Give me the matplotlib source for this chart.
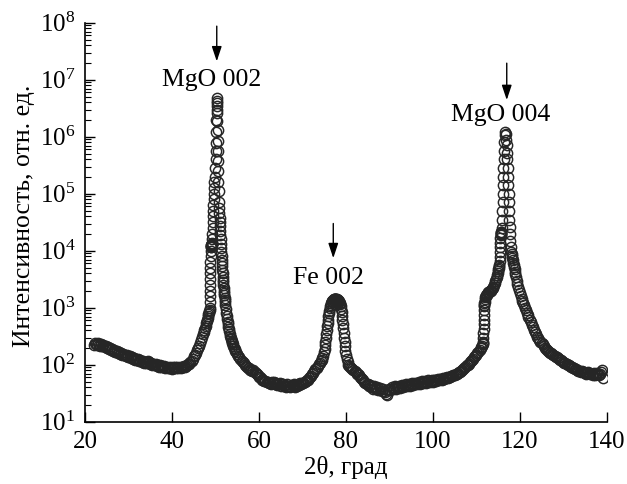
import numpy as np
import matplotlib
matplotlib.use('Agg')
import matplotlib.pyplot as plt
from matplotlib.ticker import FixedLocator, FuncFormatter, NullFormatter

plt.rcParams['font.family'] = ['Liberation Serif', 'DejaVu Serif']
plt.rcParams['mathtext.fontset'] = 'custom'
plt.rcParams['mathtext.rm'] = 'Liberation Serif'
plt.rcParams['mathtext.it'] = 'Liberation Serif:italic'
plt.rcParams['mathtext.bf'] = 'Liberation Serif:bold'

# --- points: (2theta in degrees, intensity in arb. units) ---
# background before MgO 002
bg1 = [(22.0, 225), (22.25, 240), (22.5, 232), (22.75, 220), (23.0, 236), (23.25, 222),
       (23.5, 215), (23.75, 228), (24.0, 210), (24.25, 218), (24.5, 205), (24.75, 212),
       (25.0, 198), (25.25, 206), (25.5, 190), (25.75, 196), (26.0, 182), (26.25, 188),
       (26.5, 176), (26.75, 180), (27.0, 168), (27.25, 174), (27.5, 162), (27.75, 168),
       (28.0, 155), (28.25, 160), (28.5, 150), (28.75, 156), (29.0, 146), (29.25, 150),
       (29.5, 140), (29.75, 146), (30.0, 136), (30.25, 141), (30.5, 131), (30.75, 137),
       (31.0, 128), (31.25, 132), (31.5, 123), (31.75, 128), (32.0, 119), (32.25, 124),
       (32.5, 115), (32.75, 120), (33.0, 112), (33.25, 117), (33.5, 108), (33.75, 113),
       (34.0, 106), (34.25, 111), (34.5, 115), (34.75, 110), (35.0, 104), (35.25, 108),
       (35.5, 100), (35.75, 105), (36.0, 98), (36.25, 102), (36.5, 95), (36.75, 99),
       (37.0, 93), (37.25, 97), (37.5, 91), (37.75, 95), (38.0, 90), (38.25, 94),
       (38.5, 88), (38.75, 93), (39.0, 89), (39.25, 86), (39.5, 92), (39.75, 88),
       (40.0, 85), (40.25, 91), (40.5, 88), (40.75, 92), (41.0, 86), (41.25, 90),
       (41.5, 88), (41.75, 93), (42.0, 89), (42.25, 92), (42.5, 90), (42.75, 94),
       (43.0, 92), (43.25, 96), (43.5, 98), (43.75, 102), (44.0, 104), (44.25, 110),
       (44.5, 118), (44.75, 128), (45.0, 140), (45.25, 150), (45.5, 162), (45.75, 178),
       (46.0, 195), (46.25, 215), (46.5, 240), (46.75, 270), (47.0, 310), (47.15, 340),
       (47.3, 370), (47.45, 405), (47.6, 440), (47.75, 485), (47.9, 530), (48.0, 575),
       (48.1, 620), (48.2, 670), (48.3, 720), (48.4, 770), (48.5, 820), (48.6, 870)]

# MgO 002 reflection
mgo002 = [(48.65, 900), (48.70, 1000), (48.72, 1250), (48.74, 1600), (48.76, 2000),
          (48.78, 2500), (48.80, 3200), (48.82, 4000), (48.84, 5000), (48.86, 6300),
          (48.88, 8000), (48.90, 10000), (48.95, 11500), (49.00, 12000), (49.02, 11800),
          (49.05, 12500), (49.07, 12600), (49.10, 12800), (49.12, 12900), (49.15, 13000),
          (49.17, 13300), (49.20, 13500), (49.25, 15800), (49.30, 20000), (49.35, 25000),
          (49.40, 31600), (49.45, 40000), (49.50, 50000), (49.55, 63000), (49.60, 80000),
          (49.65, 1.0e5), (49.70, 1.26e5), (49.75, 1.6e5), (49.85, 2.0e5), (49.95, 2.8e5),
          (50.02, 4.0e5), (50.08, 5.6e5), (50.14, 7.9e5), (50.19, 1.2e6), (50.23, 1.95e6),
          (50.27, 2.95e6), (50.30, 3.9e6), (50.33, 4.8e6), (50.36, 4.3e6), (50.39, 3.5e6),
          (50.42, 2.6e6), (50.46, 1.9e6), (50.50, 1.3e6), (50.54, 8.5e5), (50.58, 5.6e5),
          (50.62, 3.8e5), (50.66, 2.5e5), (50.70, 1.6e5), (50.75, 1.1e5), (50.80, 7.1e4)]

# MgO 002 tail and background up to Fe 002
bg2 = [(50.85, 56000), (50.9, 45000), (50.95, 38000), (51.0, 32000), (51.05, 27000),
       (51.1, 22000), (51.15, 19000), (51.2, 16000), (51.25, 13000), (51.3, 11000),
       (51.35, 9400), (51.4, 8000), (51.45, 7000), (51.5, 6000), (51.55, 5300),
       (51.6, 4600), (51.65, 4000), (51.7, 3500), (51.75, 3100), (51.8, 2800),
       (51.85, 2500), (51.9, 2200), (51.95, 2000), (52.0, 1800), (52.05, 1650),
       (52.1, 1500), (52.15, 1370), (52.2, 1250), (52.3, 1100), (52.4, 950),
       (52.5, 820), (52.6, 720), (52.7, 640), (52.8, 570), (52.9, 510),
       (53.0, 460), (53.1, 420), (53.2, 385), (53.3, 350), (53.4, 325),
       (53.5, 300), (53.6, 280), (53.7, 265), (53.8, 250), (53.9, 240),
       (54.0, 230), (54.15, 215), (54.3, 200), (54.45, 188), (54.6, 176),
       (54.8, 165), (55.0, 155), (55.25, 145), (55.5, 135), (55.75, 128),
       (56.0, 118), (56.25, 112), (56.5, 106), (56.75, 100), (57.0, 96),
       (57.25, 92), (57.5, 88), (57.75, 86), (58.0, 82), (58.25, 80),
       (58.5, 77), (58.75, 80), (59.0, 76), (59.25, 72), (59.5, 68),
       (59.75, 66), (60.0, 62), (60.25, 60), (60.5, 58), (60.75, 55),
       (61.0, 55), (61.25, 52), (61.5, 51), (61.75, 49), (62.0, 50),
       (62.25, 47), (62.5, 48), (62.75, 46), (63.0, 49), (63.25, 47),
       (63.5, 50), (63.75, 46), (64.0, 48), (64.25, 44), (64.5, 45),
       (64.75, 47), (65.0, 43), (65.25, 45), (65.5, 46), (65.75, 42),
       (66.0, 44), (66.25, 41), (66.5, 45), (66.75, 42), (67.0, 43),
       (67.25, 40), (67.5, 44), (67.75, 42), (68.0, 45), (68.25, 41),
       (68.5, 44), (68.75, 43), (69.0, 46), (69.25, 44), (69.5, 47),
       (69.75, 45), (70.0, 48), (70.25, 47), (70.5, 50), (70.75, 51),
       (71.0, 54), (71.25, 55), (71.5, 58), (71.75, 61), (72.0, 64),
       (72.25, 68), (72.5, 72), (72.75, 77), (73.0, 83), (73.25, 88),
       (73.5, 95), (73.75, 102)]

# Fe 002 reflection
fe002 = [(74.0, 108), (74.2, 115), (74.4, 122), (74.6, 130), (74.8, 142), (74.95, 165),
         (75.1, 190), (75.2, 218), (75.3, 250), (75.4, 292), (75.5, 340), (75.6, 400),
         (75.7, 470), (75.8, 545), (75.9, 620), (76.0, 710), (76.1, 800), (76.2, 890),
         (76.3, 980), (76.4, 1060), (76.5, 1130), (76.6, 1200), (76.7, 1250), (76.8, 1300),
         (76.9, 1330), (77.0, 1360), (77.1, 1380), (77.2, 1400), (77.3, 1410), (77.4, 1420),
         (77.5, 1420), (77.6, 1418), (77.7, 1415), (77.8, 1408), (77.9, 1400), (78.0, 1385),
         (78.1, 1365), (78.2, 1345), (78.3, 1320), (78.4, 1290), (78.5, 1255), (78.6, 1215),
         (78.7, 1170), (78.8, 1070), (78.9, 950), (79.0, 830), (79.1, 720), (79.2, 615),
         (79.3, 520), (79.4, 435), (79.5, 360), (79.6, 300), (79.7, 250), (79.8, 210),
         (79.9, 175), (80.0, 150), (80.2, 125), (80.4, 110), (80.6, 100), (80.8, 96)]

# background between Fe 002 and MgO 004
bg3 = [(81.0, 92), (81.25, 88), (81.5, 84), (81.75, 82), (82.0, 78), (82.25, 74),
       (82.5, 70), (82.75, 68), (83.0, 66), (83.25, 61), (83.5, 58), (83.75, 56),
       (84.0, 53), (84.25, 50), (84.5, 48), (84.75, 46), (85.0, 45), (85.25, 42),
       (85.5, 44), (85.75, 40), (86.0, 41), (86.25, 38), (86.5, 42), (86.75, 39),
       (87.0, 37), (87.25, 40), (87.5, 36), (87.75, 39), (88.0, 37), (88.25, 35),
       (88.5, 38), (88.75, 34), (89.0, 33), (89.25, 31), (89.5, 30), (89.75, 36),
       (90.0, 38), (90.25, 36), (90.5, 40), (90.75, 37), (91.0, 39), (91.25, 42),
       (91.5, 38), (91.75, 41), (92.0, 40), (92.25, 43), (92.5, 39), (92.75, 42),
       (93.0, 44), (93.25, 41), (93.5, 43), (93.75, 45), (94.0, 42), (94.25, 44),
       (94.5, 46), (94.75, 43), (95.0, 45), (95.25, 47), (95.5, 44), (95.75, 46),
       (96.0, 48), (96.25, 45), (96.5, 47), (96.75, 50), (97.0, 46), (97.25, 48),
       (97.5, 51), (97.75, 47), (98.0, 49), (98.25, 52), (98.5, 48), (98.75, 50),
       (99.0, 53), (99.25, 49), (99.5, 52), (99.75, 54), (100.0, 50), (100.25, 53),
       (100.5, 55), (100.75, 52), (101.0, 54), (101.25, 56), (101.5, 53), (101.75, 57),
       (102.0, 55), (102.25, 58), (102.5, 56), (102.75, 59), (103.0, 58), (103.25, 61),
       (103.5, 59), (103.75, 62), (104.0, 61), (104.25, 64), (104.5, 63), (104.75, 66),
       (105.0, 66), (105.25, 69), (105.5, 70), (105.75, 72), (106.0, 74), (106.25, 76),
       (106.5, 79), (106.75, 82), (107.0, 85), (107.25, 89), (107.5, 92), (107.75, 97),
       (108.0, 100), (108.25, 105), (108.5, 110), (108.75, 116), (109.0, 122), (109.25, 128),
       (109.5, 135), (109.75, 142), (110.0, 150), (110.25, 160), (110.5, 170), (110.75, 182),
       (111.0, 195), (111.15, 205), (111.3, 215), (111.45, 228), (111.55, 240)]

# MgO 004 reflection
mgo004 = [(111.60, 250), (111.62, 300), (111.64, 360), (111.66, 430), (111.68, 520),
          (111.70, 620), (111.72, 740), (111.74, 900), (111.76, 1050), (111.8, 1130),
          (111.85, 1200), (111.9, 1280), (112.0, 1450), (112.1, 1530), (112.2, 1600),
          (112.3, 1650), (112.4, 1700), (112.5, 1740), (112.6, 1780), (112.7, 1820),
          (112.8, 1850), (112.9, 1880), (113.0, 1900), (113.15, 1950), (113.3, 2000),
          (113.45, 2080), (113.6, 2150), (113.75, 2250), (113.9, 2350), (114.05, 2500),
          (114.2, 2700), (114.35, 2950), (114.5, 3200), (114.65, 3500), (114.8, 3800),
          (114.9, 4100), (115.0, 4400), (115.08, 4700), (115.15, 5000), (115.22, 5300),
          (115.30, 5600), (115.34, 6600), (115.38, 7900), (115.42, 9500), (115.46, 11500),
          (115.50, 13800), (115.54, 16600), (115.58, 19000), (115.60, 19500), (115.62, 20000),
          (115.65, 20500), (115.68, 21000), (115.70, 21500), (115.90, 25000), (115.95, 35000),
          (116.00, 50000), (116.05, 71000), (116.10, 1.0e5), (116.15, 1.41e5), (116.20, 2.0e5),
          (116.25, 2.82e5), (116.30, 4.0e5), (116.35, 5.62e5), (116.45, 8.0e5), (116.55, 1.05e6),
          (116.65, 1.23e6), (116.75, 1.12e6), (116.85, 8.9e5), (116.95, 7.1e5), (117.05, 5.2e5),
          (117.15, 4.0e5), (117.25, 2.8e5), (117.35, 2.0e5), (117.40, 1.41e5), (117.45, 1.0e5),
          (117.50, 7.1e4), (117.55, 5.0e4), (117.60, 3.5e4), (117.65, 2.6e4), (117.70, 2.0e4),
          (117.80, 1.5e4), (117.90, 1.17e4)]

# MgO 004 tail
bg4 = [(118.0, 9500), (118.1, 8700), (118.2, 8000), (118.3, 7400), (118.4, 6800),
       (118.5, 6200), (118.6, 5700), (118.7, 5200), (118.8, 4700), (118.9, 4300),
       (119.0, 3900), (119.15, 3400), (119.3, 3000), (119.45, 2650), (119.6, 2300),
       (119.8, 2050), (120.0, 1800), (120.2, 1620), (120.4, 1450), (120.6, 1320),
       (120.8, 1200), (121.0, 1100), (121.2, 1000), (121.4, 910), (121.6, 820),
       (121.8, 750), (122.0, 680), (122.25, 620), (122.5, 560), (122.75, 500),
       (123.0, 450), (123.25, 410), (123.5, 370), (123.75, 340), (124.0, 310),
       (124.25, 290), (124.5, 270), (124.75, 255), (125.0, 240), (125.25, 228),
       (125.5, 215), (125.75, 200), (126.0, 190), (126.25, 184), (126.5, 175),
       (126.75, 170), (127.0, 162), (127.25, 158), (127.5, 152), (127.75, 146),
       (128.0, 142), (128.25, 138), (128.5, 134), (128.75, 129), (129.0, 126),
       (129.25, 123), (129.5, 120), (129.75, 115), (130.0, 113), (130.25, 109),
       (130.5, 106), (130.75, 103), (131.0, 100), (131.25, 97), (131.5, 95),
       (131.75, 92), (132.0, 90), (132.25, 89), (132.5, 86), (132.75, 84),
       (133.0, 83), (133.25, 81), (133.5, 79), (133.75, 78), (134.0, 76),
       (134.25, 77), (134.5, 74), (134.75, 73), (135.0, 72), (135.25, 70),
       (135.5, 71), (135.75, 74), (136.0, 72), (136.25, 68), (136.5, 70),
       (136.75, 67), (137.0, 71), (137.25, 66), (137.5, 68), (137.75, 72),
       (138.0, 70), (138.25, 65), (138.5, 68), (138.75, 74), (139.0, 80), (139.1, 58)]

x_ticks = [20, 40, 60, 80, 100, 120, 140]
y_decades = [1, 2, 3, 4, 5, 6, 7, 8]
peak_labels = ['MgO 002', 'Fe 002', 'MgO 004']

points = bg1 + mgo002 + bg2 + fe002 + bg3 + mgo004 + bg4
two_theta = np.array([p[0] for p in points])
intensity = np.array([p[1] for p in points])

fig = plt.figure(figsize=(6.27, 4.84), dpi=100)
ax = fig.add_axes([0.1356, 0.1287, 0.8321, 0.8244])

ax.plot(two_theta, intensity, 'o', ms=7.4, mfc='none', mec='#262626', mew=1.05)

ax.set_yscale('log')
ax.set_xlim(20, 140)
ax.set_ylim(10, 1e8)
ax.xaxis.set_major_locator(FixedLocator(x_ticks))
ax.yaxis.set_major_locator(FixedLocator([10.0 ** d for d in y_decades]))
ax.yaxis.set_major_formatter(FuncFormatter(
    lambda v, pos: r'$\mathdefault{10^{%d}}$' % round(np.log10(v))))
minor = [m * 10.0 ** d for d in y_decades[:-1] for m in range(2, 10)]
ax.yaxis.set_minor_locator(FixedLocator(minor))
ax.yaxis.set_minor_formatter(NullFormatter())

for s in ['top', 'right']:
    ax.spines[s].set_visible(False)
for s in ['left', 'bottom']:
    ax.spines[s].set_linewidth(1.2)

ax.tick_params(which='major', direction='in', length=7.5, width=1.0, labelsize=18, pad=7)
ax.tick_params(which='minor', direction='in', length=4, width=0.8)

ax.set_xlabel('2θ, град', fontsize=18)
ax.xaxis.set_label_coords(0.5, -0.085)
ax.set_ylabel('Интенсивность, отн. ед.', fontsize=18.5)
ax.yaxis.set_label_coords(-0.096, 0.516)

arrow = dict(arrowstyle='-|>,head_length=0.45,head_width=0.15', color='black',
             lw=1.0, mutation_scale=20, shrinkA=0, shrinkB=0)

# MgO 002
ax.annotate('', xy=(50.3, 2.1e7), xytext=(50.3, 8.7e7), arrowprops=arrow)
ax.text(49.15, 7.8e6, peak_labels[0], ha='center', va='baseline', fontsize=18.5)
# Fe 002
ax.annotate('', xy=(77.1, 7.4e3), xytext=(77.1, 3.0e4), arrowprops=arrow)
ax.text(76.1, 2.6e3, peak_labels[1], ha='center', va='baseline', fontsize=18.5)
# MgO 004
ax.annotate('', xy=(117.0, 4.4e6), xytext=(117.0, 1.95e7), arrowprops=arrow)
ax.text(115.5, 1.9e6, peak_labels[2], ha='center', va='baseline', fontsize=18.5)

fig.savefig('out.png', dpi=100)
